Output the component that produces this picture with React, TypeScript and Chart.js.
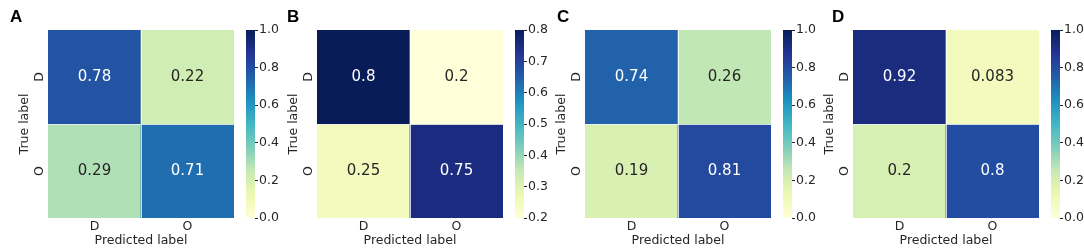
import React, { useEffect, useRef } from 'react';
import { Chart, registerables } from 'chart.js';

Chart.register(...registerables);
Chart.defaults.font.family = '"DejaVu Sans", sans-serif';

// ---------- data ----------
const panelLetters = ['A', 'B', 'C', 'D'];
const predictedLabels = ['D', 'O'];
const trueLabels = ['D', 'O'];

const matrixA = [[0.78, 0.22], [0.29, 0.71]];
const matrixB = [[0.8, 0.2], [0.25, 0.75]];
const matrixC = [[0.74, 0.26], [0.19, 0.81]];
const matrixD = [[0.92, 0.083], [0.2, 0.8]];
const matrices = [matrixA, matrixB, matrixC, matrixD];

const colorMin = [0, 0.2, 0, 0];
const colorMax = [1, 0.8, 1, 1];
const colorStep = [0.2, 0.1, 0.2, 0.2];

// YlGnBu colormap control points
const ylgnbu = ['#ffffd9', '#edf8b1', '#c7e9b4', '#7fcdbb', '#41b6c4', '#1d91c0', '#225ea8', '#253494', '#081d58'];

// ---------- layout ----------
const HM_LEFT = [48, 317, 585, 853];
const HM_W = 186;
const HM_TOP = 30;
const HM_BOTTOM = 218;
const Y_AXIS_W = 48;
const X_AXIS_H = 248 - HM_BOTTOM;
const CB_OFFSET = 198;
const CB_W = 9;
const CB_CANVAS_W = 40;
const LETTER_X = [10, 287, 557, 832];
const TEXT_DARK = '#262626';

function hexToRgb(h: string) {
  const n = parseInt(h.slice(1), 16);
  return [(n >> 16) & 255, (n >> 8) & 255, n & 255];
}
const stopsRgb = ylgnbu.map(hexToRgb);
function cmapRgb(t: number) {
  const c = Math.max(0, Math.min(1, t));
  const n = stopsRgb.length - 1;
  const p = c * n;
  const i = Math.min(Math.floor(p), n - 1);
  const f = p - i;
  const a = stopsRgb[i], b = stopsRgb[i + 1];
  return [0, 1, 2].map(k => Math.round(a[k] + (b[k] - a[k]) * f));
}
function rgbCss(c: number[]) {
  return `rgb(${c[0]},${c[1]},${c[2]})`;
}
function luminance(c: number[]) {
  const lin = c.map(v => {
    const s = v / 255;
    return s <= 0.03928 ? s / 12.92 : Math.pow((s + 0.055) / 1.055, 2.4);
  });
  return 0.2126 * lin[0] + 0.7152 * lin[1] + 0.0722 * lin[2];
}

function Heatmap({ index }: { index: number }) {
  const ref = useRef<HTMLCanvasElement>(null);
  const canvasLeft = HM_LEFT[index] - Y_AXIS_W;
  const canvasW = Y_AXIS_W + HM_W + 2;
  useEffect(() => {
    const matrix = matrices[index];
    const vmin = colorMin[index];
    const vmax = colorMax[index];
    const norm = (v: number) => (v - vmin) / (vmax - vmin);
    const datasets = trueLabels.map((lab, i) => ({
      label: lab,
      data: predictedLabels.map(() => [i, i + 1]),
      backgroundColor: matrix[i].map(v => rgbCss(cmapRgb(norm(v)))),
      borderWidth: 0,
      grouped: false,
      barPercentage: 1,
      categoryPercentage: 1,
    }));
    const annotate = {
      id: 'annotate' + index,
      afterDatasetsDraw(chart: any) {
        const { ctx, chartArea: a, scales } = chart;
        const x = scales.x, y = scales.y;
        ctx.save();
        ctx.strokeStyle = 'rgba(255,255,255,0.75)';
        ctx.lineWidth = 1;
        for (let j = 1; j < predictedLabels.length; j++) {
          const px = Math.round(x.getPixelForValue(j - 0.5)) + 0.5;
          ctx.beginPath();
          ctx.moveTo(px, a.top);
          ctx.lineTo(px, a.bottom);
          ctx.stroke();
        }
        for (let i = 1; i < trueLabels.length; i++) {
          const py = Math.round(y.getPixelForValue(i)) + 0.5;
          ctx.beginPath();
          ctx.moveTo(a.left, py);
          ctx.lineTo(a.right, py);
          ctx.stroke();
        }
        ctx.font = '15px "DejaVu Sans"';
        ctx.textAlign = 'center';
        ctx.textBaseline = 'middle';
        matrix.forEach((row, i) => {
          row.forEach((v, j) => {
            const c = cmapRgb(norm(v));
            ctx.fillStyle = luminance(c) > 0.408 ? TEXT_DARK : '#ffffff';
            ctx.fillText(String(v), x.getPixelForValue(j), y.getPixelForValue(i + 0.5));
          });
        });
        ctx.font = 'bold 17px "Liberation Sans", Arial, sans-serif';
        ctx.textAlign = 'left';
        ctx.textBaseline = 'alphabetic';
        ctx.fillStyle = '#000000';
        ctx.fillText(panelLetters[index], LETTER_X[index] - canvasLeft, 22);
        ctx.restore();
      },
    };
    const labelFont = { family: '"DejaVu Sans"', size: 12.5 };
    const chart = new Chart(ref.current as HTMLCanvasElement, {
      type: 'bar',
      data: { labels: predictedLabels, datasets: datasets as any },
      options: {
        responsive: false,
        animation: false,
        events: [],
        layout: { padding: { top: HM_TOP, right: 2, left: 0, bottom: 0 } },
        plugins: { legend: { display: false }, tooltip: { enabled: false } },
        scales: {
          x: {
            type: 'category',
            offset: true,
            grid: { display: false, drawTicks: false },
            border: { display: false },
            ticks: { padding: 1, font: labelFont, color: TEXT_DARK },
            title: { display: true, text: 'Predicted label', font: labelFont, color: TEXT_DARK, padding: { top: 0, bottom: 0 } },
            afterFit: (s: any) => { s.height = X_AXIS_H; },
          },
          y: {
            type: 'linear',
            min: 0,
            max: trueLabels.length,
            reverse: true,
            afterBuildTicks: (s: any) => { s.ticks = trueLabels.map((_, i) => ({ value: i + 0.5 })); },
            grid: { display: false, drawTicks: false },
            border: { display: false },
            ticks: {
              callback: (_v: any, i: number) => trueLabels[i],
              minRotation: 90,
              maxRotation: 90,
              crossAlign: 'center',
              padding: 3,
              font: labelFont,
              color: TEXT_DARK,
            },
            title: { display: true, text: 'True label', font: labelFont, color: TEXT_DARK, padding: { top: 17, bottom: 0 } },
            afterFit: (s: any) => { s.width = Y_AXIS_W; },
          },
        },
      } as any,
      plugins: [annotate],
    });
    return () => chart.destroy();
  }, [index]);
  return (
    <canvas
      ref={ref}
      width={canvasW}
      height={248}
      style={{ position: 'absolute', left: canvasLeft, top: 0, width: canvasW, height: 248 }}
    />
  );
}

function Colorbar({ index }: { index: number }) {
  const ref = useRef<HTMLCanvasElement>(null);
  const canvasLeft = HM_LEFT[index] + CB_OFFSET;
  useEffect(() => {
    const vmin = colorMin[index];
    const vmax = colorMax[index];
    const chart = new Chart(ref.current as HTMLCanvasElement, {
      type: 'bar',
      data: {
        labels: ['cb'],
        datasets: [{
          data: [[vmin, vmax]] as any,
          backgroundColor: (ctx: any) => {
            const area = ctx.chart.chartArea;
            if (!area) return ylgnbu[4];
            const g = ctx.chart.ctx.createLinearGradient(0, area.bottom, 0, area.top);
            ylgnbu.forEach((c, k) => g.addColorStop(k / (ylgnbu.length - 1), c));
            return g;
          },
          borderWidth: 0,
          barPercentage: 1,
          categoryPercentage: 1,
        }],
      },
      options: {
        responsive: false,
        animation: false,
        events: [],
        layout: { padding: { top: HM_TOP, bottom: 248 - HM_BOTTOM, left: 0, right: 0 } },
        plugins: { legend: { display: false }, tooltip: { enabled: false } },
        scales: {
          x: { display: false, offset: true },
          y: {
            position: 'right',
            min: vmin,
            max: vmax,
            grid: { display: true, drawOnChartArea: false, drawTicks: true, tickLength: 3, color: TEXT_DARK, lineWidth: 1 },
            border: { display: false },
            ticks: {
              stepSize: colorStep[index],
              padding: 1,
              font: { family: '"DejaVu Sans"', size: 12.5 },
              color: TEXT_DARK,
              callback: (v: any) => Number(v).toFixed(1),
            },
            afterFit: (s: any) => { s.width = CB_CANVAS_W - CB_W; },
          },
        },
      } as any,
    });
    return () => chart.destroy();
  }, [index]);
  return (
    <canvas
      ref={ref}
      width={CB_CANVAS_W}
      height={248}
      style={{ position: 'absolute', left: canvasLeft, top: 0, width: CB_CANVAS_W, height: 248 }}
    />
  );
}

export default function App() {
  useEffect(() => {
    document.body.style.margin = '0';
  }, []);
  return (
    <div style={{ position: 'absolute', left: 0, top: 0, width: 1084, height: 248, background: '#ffffff', overflow: 'hidden' }}>
      {panelLetters.map((_, i) => (
        <React.Fragment key={i}>
          <Heatmap index={i} />
          <Colorbar index={i} />
        </React.Fragment>
      ))}
    </div>
  );
}
